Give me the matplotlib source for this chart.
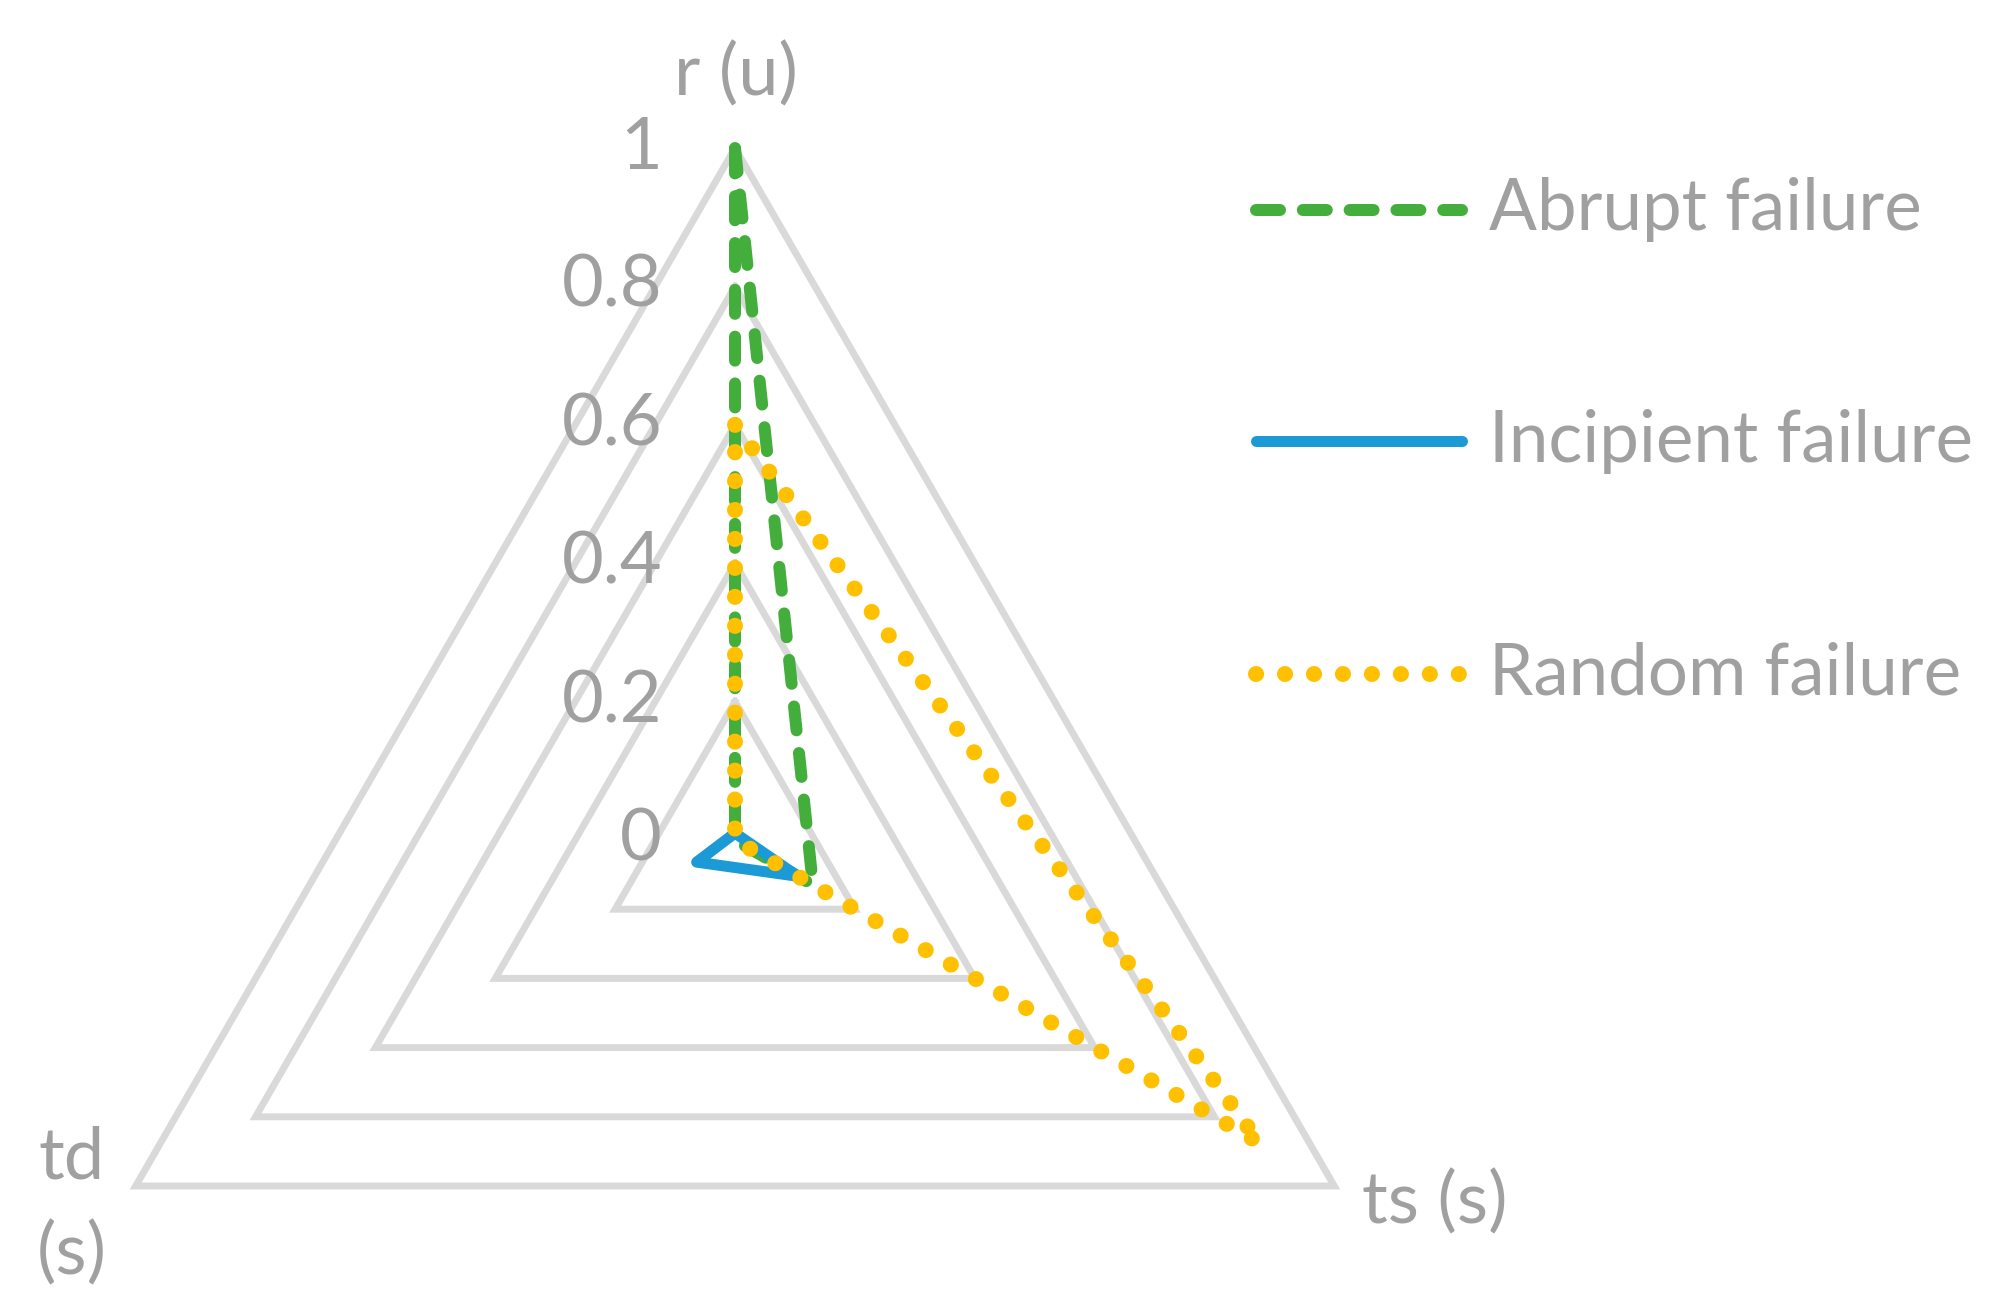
import numpy as np
import matplotlib
matplotlib.use("Agg")
import matplotlib.pyplot as plt
from matplotlib.transforms import offset_copy

# ---- data ----
categories = ["r (u)", "ts (s)", "td (s)"]
abrupt = [1.0, 0.13, 0.0]
incipient = [0.01, 0.105, 0.064]
random_f = [0.6, 0.875, 0.0]
series_names = ["Abrupt failure", "Incipient failure", "Random failure"]
grid_levels = [0.2, 0.4, 0.6, 0.8, 1.0]
tick_values = [0, 0.2, 0.4, 0.6, 0.8, 1]
tick_labels = ["0", "0.2", "0.4", "0.6", "0.8", "1"]

FONT = "Lato"
FS = 52
FS_LEG = 51
TXT = "#a0a0a0"
GRID = "#d9d9d9"
GREEN = "#43ae3b"
BLUE = "#1b9ad6"
YELLOW = "#ffc000"

W, H = 1995, 1314
fig = plt.figure(figsize=(W / 100, H / 100), dpi=100)
plt.rcParams["font.family"] = [FONT, "DejaVu Sans"]

cx, cy, R = 735, 840, 692
ax = fig.add_axes([(cx - R) / W, (H - cy - R) / H, 2 * R / W, 2 * R / H],
                  projection="polar")
ax.set_theta_zero_location("N")
ax.set_theta_direction(-1)
ax.set_ylim(0, 1)
ax.grid(False)
ax.set_xticks([])
ax.set_yticks([])
ax.spines["polar"].set_visible(False)
ax.patch.set_visible(False)

n = len(categories)
theta = np.arange(n) * 2 * np.pi / n
theta_c = np.append(theta, theta[0])

for lv in grid_levels:
    ax.plot(theta_c, [lv] * (n + 1), color=GRID, lw=5.0, clip_on=False,
            solid_joinstyle="miter", zorder=1)

def closed(v):
    return np.append(v, v[0])

px = 72 / 100
green_style = dict(color=GREEN, lw=12 * px, linestyle=(0, (2.0, 1.9)),
                   dash_capstyle="round")
blue_style = dict(color=BLUE, lw=11 * px, solid_joinstyle="round",
                  solid_capstyle="round")
yellow_style = dict(color=YELLOW, lw=16 * px, linestyle=(0, (0.01, 1.8)),
                    dash_capstyle="round")

ax.plot(theta_c, closed(abrupt), clip_on=False, zorder=3, **green_style)
ax.plot(theta_c, closed(incipient), clip_on=False, zorder=4, **blue_style)
ax.plot(theta_c, closed(random_f), clip_on=False, zorder=5, **yellow_style)

tr = offset_copy(ax.transData, fig=fig, x=-73, y=0, units="dots")
for v, lab in zip(tick_values, tick_labels):
    ax.text(0, v, lab, transform=tr, ha="right", va="center",
            fontsize=FS, color=TXT, family=FONT, clip_on=False)

# axis labels
def ftext(x, y, s, **kw):
    fig.text(x / W, 1 - y / H, s, fontsize=FS, color=TXT, family=FONT, **kw)

ftext(736, 74, categories[0], ha="center", va="center")
ftext(1435, 1202, categories[1], ha="center", va="center")
ftext(72, 1158, "td", ha="center", va="center")
ftext(72, 1253, "(s)", ha="center", va="center")

# legend (manual)
lax = fig.add_axes([0, 0, 1, 1])
lax.set_xlim(0, W)
lax.set_ylim(H, 0)
lax.axis("off")
rows = [210, 441, 674]
for y, name, st in zip(rows, series_names, [green_style, blue_style, yellow_style]):
    lax.plot([1256, 1462], [y, y], **st)
    lax.text(1489, y, name, ha="left", va="center", fontsize=FS_LEG, color=TXT, family=FONT)

fig.savefig("out.png", dpi=100)
